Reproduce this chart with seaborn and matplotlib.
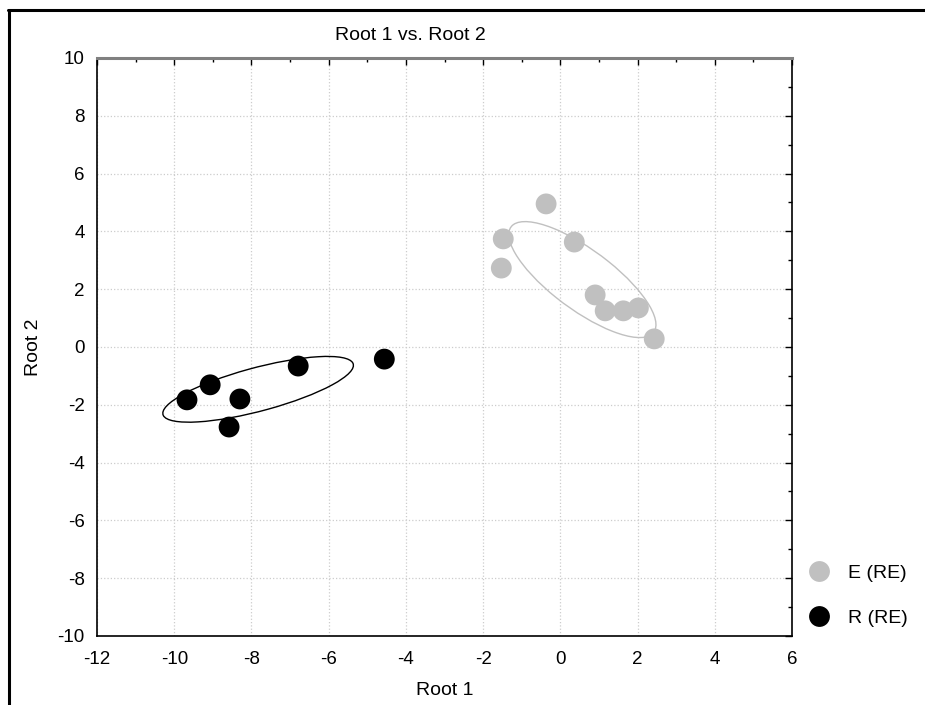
import numpy as np
import pandas as pd
import matplotlib
matplotlib.use("Agg")
import matplotlib.pyplot as plt
from matplotlib.lines import Line2D
from matplotlib.patches import Ellipse
from matplotlib.ticker import MultipleLocator
import seaborn as sns

# Canonical scores
e_root1 = [-0.37, -1.48, -1.53, 0.36, 0.90, 1.16, 1.63, 2.02, 2.43]
e_root2 = [4.95, 3.74, 2.73, 3.63, 1.80, 1.25, 1.25, 1.35, 0.28]
r_root1 = [-9.67, -9.07, -8.30, -8.58, -6.79, -4.56]
r_root2 = [-1.83, -1.31, -1.80, -2.77, -0.66, -0.42]
groups = ["E (RE)", "R (RE)"]
group_colors = ["#c0c0c0", "#000000"]

df = pd.DataFrame({
    "Root 1": e_root1 + r_root1,
    "Root 2": e_root2 + r_root2,
    "group": [groups[0]] * len(e_root1) + [groups[1]] * len(r_root1),
})

sns.set_style("white")
plt.rcParams["font.family"] = ["Liberation Sans", "DejaVu Sans"]
plt.rcParams["axes.unicode_minus"] = False
plt.rcParams["text.color"] = "black"
plt.rcParams["axes.labelcolor"] = "black"

fig = plt.figure(figsize=(9.25, 7.05), dpi=100)
ax = fig.add_axes([0.1049, 0.0979, 0.7514, 0.8199])


def add_ellipse(ax, x, y, color, k=1.32):
    """Draw a covariance ellipse around the group mean."""
    x, y = np.asarray(x), np.asarray(y)
    cov = np.cov(x, y)
    vals, vecs = np.linalg.eigh(cov)
    angle = np.degrees(np.arctan2(vecs[1, 1], vecs[0, 1]))
    w, h = 2 * k * np.sqrt(vals[1]), 2 * k * np.sqrt(vals[0])
    ax.add_patch(Ellipse((x.mean(), y.mean()), w, h, angle=angle,
                         fill=False, edgecolor=color, lw=1.0, zorder=2))


add_ellipse(ax, e_root1, e_root2, group_colors[0])
add_ellipse(ax, r_root1, r_root2, group_colors[1])

sns.scatterplot(data=df, x="Root 1", y="Root 2", hue="group",
                hue_order=groups, palette=group_colors, s=225,
                edgecolor="none", ax=ax, zorder=3)

ax.set_xlim(-12, 6)
ax.set_ylim(-10, 10)
ax.xaxis.set_major_locator(MultipleLocator(2))
ax.xaxis.set_minor_locator(MultipleLocator(1))
ax.yaxis.set_major_locator(MultipleLocator(2))
ax.yaxis.set_minor_locator(MultipleLocator(1))
ax.grid(True, which="major", color="#cccccc", linestyle=":", lw=0.9)
ax.tick_params(which="both", direction="in", top=True, right=True,
               labelsize=13.5, colors="black", width=1)
ax.tick_params(which="major", length=5)
ax.tick_params(which="minor", length=3)
ax.tick_params(axis="x", which="major", pad=11)
ax.tick_params(axis="y", which="major", pad=9)
for side in ["left", "bottom", "right"]:
    ax.spines[side].set_color("black")
    ax.spines[side].set_linewidth(1.2)
ax.spines["top"].set_color("#808080")
ax.spines["top"].set_linewidth(2.2)

ax.set_xlabel("Root 1", fontsize=14, labelpad=10)
ax.set_ylabel("Root 2", fontsize=14, labelpad=11)
fig.text(410 / 925, 1 - 36 / 705, "Root 1 vs. Root 2", ha="center",
         va="center", fontsize=14)

sns.move_legend(ax, "center left", bbox_to_anchor=(0.986, 0.07),
                frameon=False, title=None, fontsize=14,
                handletextpad=0.5, labelspacing=1.4, markerscale=1.0)

# outer frame of the screenshot (top and left edges only)
fig.add_artist(Line2D([8 / 925, 1.0], [1 - 9.5 / 705] * 2,
                      color="black", lw=2.2, transform=fig.transFigure))
fig.add_artist(Line2D([9 / 925] * 2, [0, 1 - 9.5 / 705],
                      color="black", lw=2.2, transform=fig.transFigure))

fig.savefig("out.png", dpi=100)
